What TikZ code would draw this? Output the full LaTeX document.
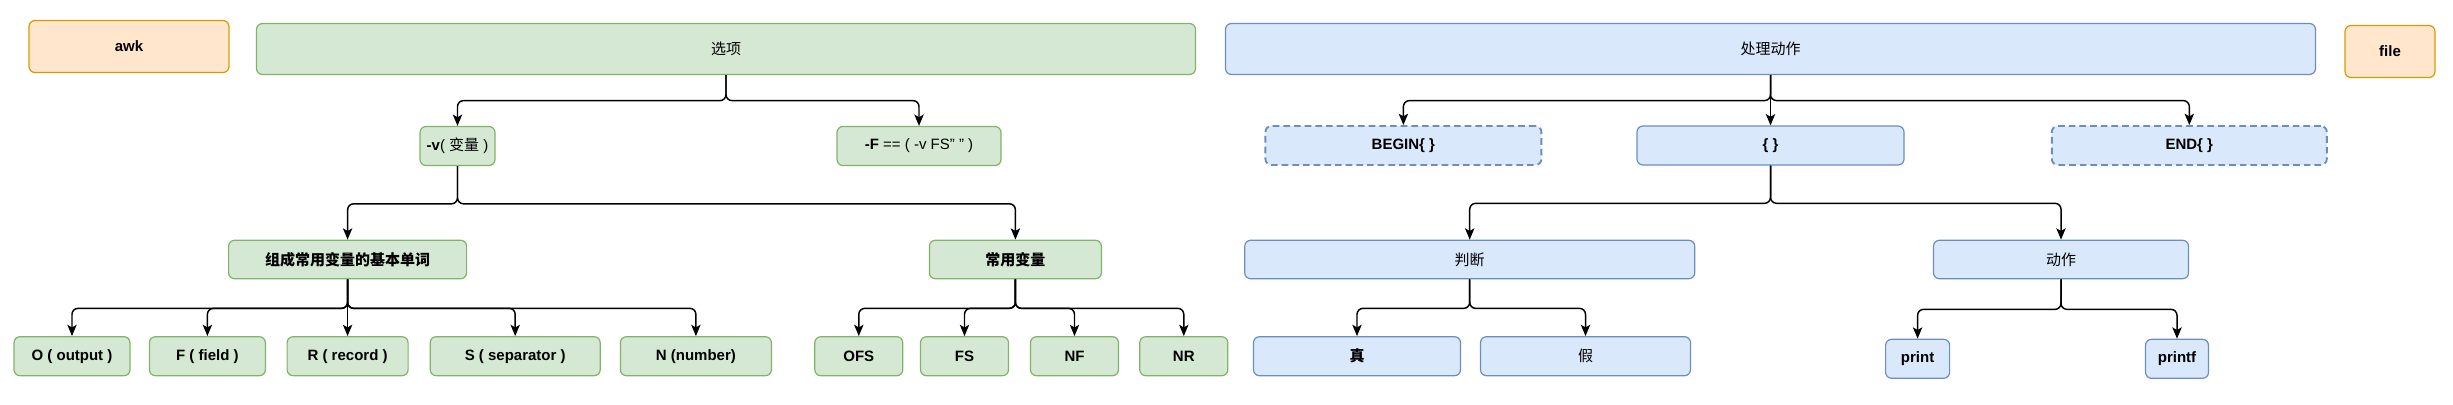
\documentclass[tikz,border=0pt]{standalone}
\usepackage{fontspec}
\setmainfont{Liberation Sans}
\newfontfamily\cjk{Noto Sans CJK SC}
\usetikzlibrary{positioning, arrows.meta}

\definecolor{gfill}{HTML}{D5E8D4}
\definecolor{gline}{HTML}{82B366}
\definecolor{bfill}{HTML}{DAE8FC}
\definecolor{bline}{HTML}{6C8EBF}
\definecolor{ofill}{HTML}{FFE6CC}
\definecolor{oline}{HTML}{D79B00}

\tikzset{
  box/.style={draw, rounded corners=4.5pt, line width=0.9pt, inner sep=0pt,
    font=\fontsize{11.25}{13.5}\selectfont\bfseries},
  wh/.style 2 args={minimum width=#1*0.75pt, minimum height=#2*0.75pt},
  opt/.style={box, fill=gfill, draw=gline},
  act/.style={box, fill=bfill, draw=bline},
  io/.style={box, fill=ofill, draw=oline},
  optional/.style={act, dash pattern=on 5pt off 3pt, line width=1.4pt},
  fork/.style={to path={-- ++(0,#1) -| (\tikztotarget)}},
}

\begin{document}
\begin{tikzpicture}[x=0.75pt, y=-0.75pt, >={Stealth[length=8.5pt, width=7pt, inset=2pt]},
    every edge/.style={draw, ->, line width=1.1pt, rounded corners=4.5pt}]
  \useasboundingbox (0,0) rectangle (2453,404);

  % top row
  \node[io, wh={200}{52}] (awk) at (129,46.5) {awk};
  \node[opt, wh={939}{51}] (options) at (726,49) {\cjk\mdseries 选项};
  \node[act, wh={1090}{51}] (actions) at (1770.5,49) {\cjk\mdseries 处理动作};
  \node[io, wh={90}{52}] (file) at (2390,51.5) {file};

  % options
  \node[opt, wh={75}{39}] (var) at (457.5,146) {-v\mdseries( {\cjk 变量} )};
  \node[opt, wh={164}{39}] (fs) at (919,146) {-F\mdseries{} == ( -v FS" " )};
  \node[opt, wh={238}{38.5}] (words) at (347.6,259.5) {\cjk 组成常用变量的基本单词};
  \node[opt, wh={172}{38.5}] (common) at (1015.4,259.5) {\cjk 常用变量};

  \node[opt, wh={116}{39}] (o) at (72,356.2) {O ( output )};
  \node[opt, wh={116}{39}] (f) at (207.4,356.2) {F ( field )};
  \node[opt, wh={121}{39}] (r) at (347.6,356.2) {R ( record )};
  \node[opt, wh={170}{39}] (s) at (515.2,356.2) {S ( separator )};
  \node[opt, wh={151}{39}] (n) at (695.9,356.2) {N (number)};
  \node[opt, wh={88}{39}] (ofs) at (858.8,356.2) {OFS};
  \node[opt, wh={88}{39}] (vfs) at (964.5,356.2) {FS};
  \node[opt, wh={88}{39}] (nf) at (1074.5,356.2) {NF};
  \node[opt, wh={88}{39}] (nr) at (1183.8,356.2) {NR};

  % actions
  \node[optional, wh={276}{39}] (begin) at (1403.4,145.5) {BEGIN\{ \}};
  \node[act, wh={267}{39}] (body) at (1770.5,145.5) {\{ \}};
  \node[optional, wh={275}{39}] (end) at (2189.3,145.5) {END\{ \}};
  \node[act, wh={450}{38.5}] (test) at (1469.7,259.5) {\cjk\mdseries 判断};
  \node[act, wh={255}{38.5}] (do) at (2061,259.5) {\cjk\mdseries 动作};
  \node[act, wh={207}{39}] (yes) at (1357,356.2) {\cjk 真};
  \node[act, wh={210}{39}] (no) at (1585.5,356.2) {\cjk\mdseries 假};
  \node[act, wh={64}{39}] (print) at (1917.6,358.8) {print};
  \node[act, wh={63}{39}] (printf) at (2177,358.8) {printf};

  \path (options.south) edge[fork=25.5] (var.north)
        (options.south) edge[fork=25.5] (fs.north)
        (var.south) edge[fork=37.7] (words.north)
        (var.south) edge[fork=37.7] (common.north)
        (words.south) edge[fork=29] (o.north)
        (words.south) edge[fork=29] (f.north)
        (words.south) edge (r.north)
        (words.south) edge[fork=29] (s.north)
        (words.south) edge[fork=29] (n.north)
        (common.south) edge[fork=29] (ofs.north)
        (common.south) edge[fork=29] (vfs.north)
        (common.south) edge[fork=29] (nf.north)
        (common.south) edge[fork=29] (nr.north);

  \path (actions.south) edge[fork=25.5] (begin.north)
        (actions.south) edge (body.north)
        (actions.south) edge[fork=25.5] (end.north)
        (body.south) edge[fork=37.7] (test.north)
        (body.south) edge[fork=37.7] (do.north)
        (test.south) edge[fork=29] (yes.north)
        (test.south) edge[fork=29] (no.north)
        (do.south) edge[fork=30] (print.north)
        (do.south) edge[fork=30] (printf.north);
\end{tikzpicture}
\end{document}
